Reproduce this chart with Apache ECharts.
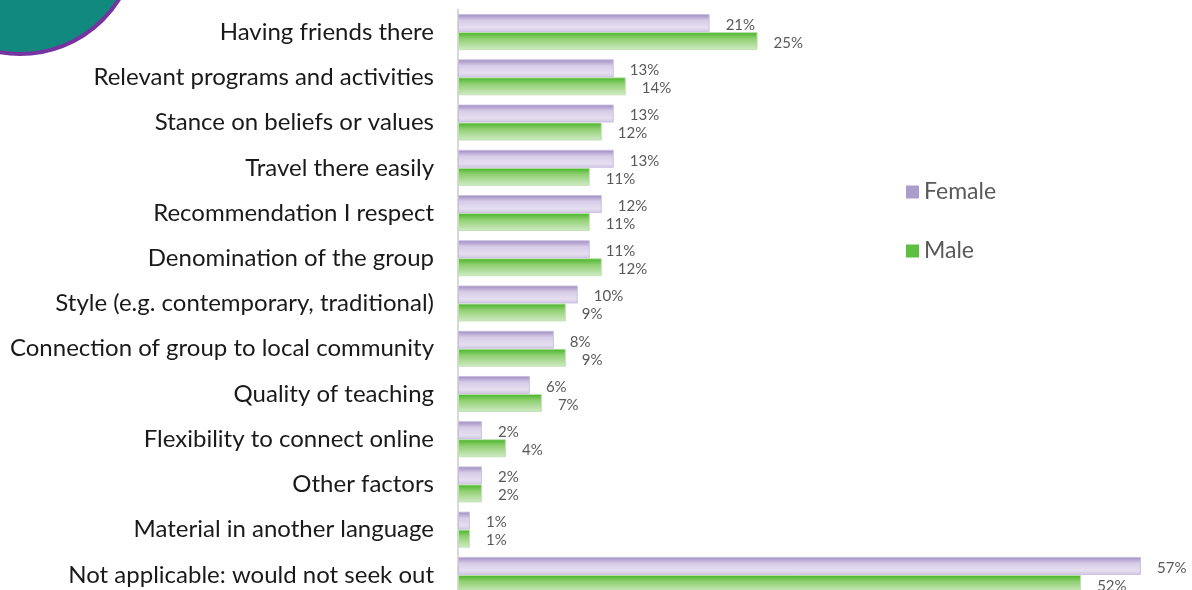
<!DOCTYPE html>
<html>
<head>
<meta charset="utf-8">
<script src="https://cdn.jsdelivr.net/npm/echarts@6/dist/echarts.min.js"></script>
<style>
html,body{margin:0;padding:0;background:#fff;overflow:hidden;width:1192px;height:590px;}
#chart{width:1192px;height:620px;}
</style>
</head>
<body>
<div id="chart"></div>
<script>
const categories = [
  "Having friends there",
  "Relevant programs and activities",
  "Stance on beliefs or values",
  "Travel there easily",
  "Recommendation I respect",
  "Denomination of the group",
  "Style (e.g. contemporary, traditional)",
  "Connection of group to local community",
  "Quality of teaching",
  "Flexibility to connect online",
  "Other factors",
  "Material in another language",
  "Not applicable: would not seek out"
];
const femaleValues = [21, 13, 13, 13, 12, 11, 10, 8, 6, 2, 2, 1, 57];
const maleValues   = [25, 14, 12, 11, 11, 12, 9, 9, 7, 4, 2, 1, 52];
const seriesNames = ["Female", "Male"];

const femaleGrad = new echarts.graphic.LinearGradient(0, 0, 0, 1, [
  {offset: 0, color: '#9d89bf'},
  {offset: 0.35, color: '#d6cce7'},
  {offset: 0.75, color: '#e5dff0'},
  {offset: 1, color: '#d2c7e3'}
]);
const maleGrad = new echarts.graphic.LinearGradient(0, 0, 0, 1, [
  {offset: 0, color: '#44b325'},
  {offset: 0.35, color: '#8dcf6f'},
  {offset: 1, color: '#d3eac7'}
]);

const chart = echarts.init(document.getElementById('chart'));
const labelStyle = {
  show: true,
  position: 'right',
  distance: 16,
  fontFamily: 'Lato',
  fontSize: 15,
  color: '#595959',
  offset: [0, 2],
  formatter: p => p.value + '%'
};
chart.setOption({
  animation: false,
  textStyle: {fontFamily: 'Lato'},
  graphic: [{
    type: 'circle',
    shape: {cx: 20, cy: -63, r: 117},
    style: {fill: '#12897e', stroke: '#7634a0', lineWidth: 4},
    z: 10
  }],
  legend: {
    orient: 'vertical',
    left: 901,
    top: 175,
    itemWidth: 13,
    itemHeight: 13,
    itemGap: 35,
    textStyle: {fontFamily: 'Lato', fontSize: 23, color: '#595959', lineHeight: 24},
    data: [
      {name: seriesNames[0], icon: 'rect', itemStyle: {color: '#ab9dcc', borderWidth: 0}},
      {name: seriesNames[1], icon: 'rect', itemStyle: {color: '#5dbf40', borderWidth: 0}}
    ]
  },
  grid: {left: 458, top: 9.5, height: 588, width: 719, containLabel: false},
  xAxis: {
    type: 'value', min: 0, max: 60,
    axisLine: {show: false}, axisTick: {show: false},
    axisLabel: {show: false}, splitLine: {show: false}
  },
  yAxis: {
    type: 'category', inverse: true, data: categories,
    axisLine: {show: true, lineStyle: {color: '#d9d9d9', width: 2}},
    axisTick: {show: false},
    axisLabel: {fontFamily: 'Lato', fontSize: 24, color: '#1a1a1a', margin: 24}
  },
  series: [
    {
      name: seriesNames[0], type: 'bar', data: femaleValues,
      barWidth: 18, barGap: '0%',
      itemStyle: {color: femaleGrad, borderColor: 'rgba(200,190,225,0.9)', borderWidth: 1},
      label: labelStyle
    },
    {
      name: seriesNames[1], type: 'bar', data: maleValues,
      barWidth: 18, barGap: '0%',
      itemStyle: {color: maleGrad, borderColor: 'rgba(190,225,175,0.9)', borderWidth: 1},
      label: labelStyle
    }
  ]
});
</script>
</body>
</html>
